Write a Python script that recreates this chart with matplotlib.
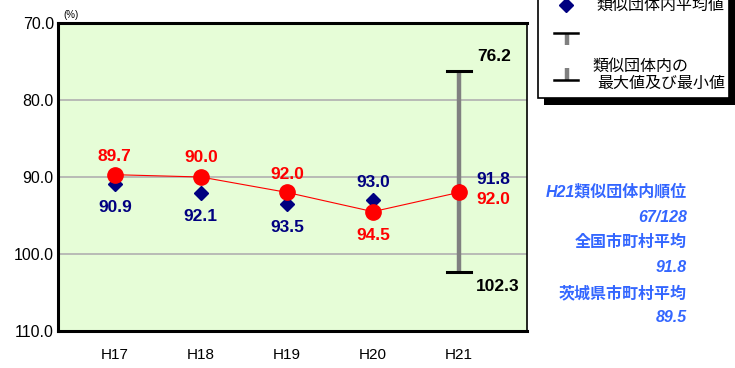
import matplotlib
matplotlib.use("Agg")
import matplotlib.pyplot as plt
from matplotlib.patches import Rectangle

plt.rcParams['font.family'] = ['Liberation Sans', 'Noto Sans CJK JP', 'DejaVu Sans']

# 年度別データ
years = ['H17', 'H18', 'H19', 'H20', 'H21']
own_vals = [89.7, 90.0, 92.0, 94.5, 92.0]       # 当該団体
group_avg = [90.9, 92.1, 93.5, 93.0, 91.8]      # 類似団体内平均値
group_max, group_min = 76.2, 102.3              # 類似団体内の最大値及び最小値 (H21)
yticks = [70.0, 80.0, 90.0, 100.0, 110.0]

side_texts = ['H21類似団体内順位', '67/128', '全国市町村平均', '91.8', '茨城県市町村平均', '89.5']

RED = '#ff0000'
NAVY = '#000080'
BLUE = '#3366ff'

fig = plt.figure(figsize=(7.35, 3.68), dpi=100)
ax = fig.add_axes([58/735, 1-331/368, 469/735, 308/368])
ax.set_facecolor('#e6fdd7')

x = list(range(len(years)))
ax.set_xlim(-0.66, 4.79)
ax.set_ylim(110, 70)
ax.set_yticks(yticks)
ax.set_yticklabels(['%.1f' % v for v in yticks], fontsize=11.5)
ax.set_xticks(x)
ax.set_xticklabels(years, fontsize=11)
ax.tick_params(length=0, pad=3)
ax.tick_params(axis='x', pad=12)
for v in yticks[1:-1]:
    ax.axhline(v, color='#b0b0b0', lw=1.2, zorder=1)
for s in ['left', 'bottom', 'top']:
    ax.spines[s].set_linewidth(2.2)
ax.spines['right'].set_linewidth(1.2)

# 最大値・最小値
xi = x[-1]
ax.plot([xi, xi], [group_max, group_min], color='#808080', lw=3.2, zorder=2, solid_capstyle='butt')
ax.plot([xi - 0.14, xi + 0.14], [group_max, group_max], color='black', lw=2.2, zorder=3)
ax.plot([xi - 0.14, xi + 0.14], [group_min, group_min], color='black', lw=2.2, zorder=3)

ax.plot(x, group_avg, linestyle='none', marker='D', markersize=7.5, color=NAVY, zorder=4)
ax.plot(x, own_vals, color=RED, lw=0.8, marker='o', markersize=11, zorder=5)

lbl = dict(ha='center', va='center', fontsize=12.5, fontweight='bold', textcoords='offset points')
red_off = [(0, 13), (0, 14), (0, 13), (0, -17), (25, -5)]
blue_off = [(0, -17), (0, -17), (0, -17), (0, 13), (25, 8)]
for i in x:
    ax.annotate('%.1f' % own_vals[i], (x[i], own_vals[i]), xytext=red_off[i], color=RED, **lbl)
    ax.annotate('%.1f' % group_avg[i], (x[i], group_avg[i]), xytext=blue_off[i], color=NAVY, **lbl)
ax.annotate('%.1f' % group_max, (xi, group_max), xytext=(25, 10), color='black', **lbl)
ax.annotate('%.1f' % group_min, (xi, group_min), xytext=(28, -11), color='black', **lbl)

fig.text(63/735, 1-15/368, '(%)', fontsize=7, ha='left', va='center')

# 凡例
lg = fig.add_axes([0, 0, 1, 1], facecolor='none')
lg.set_xlim(0, 735)
lg.set_ylim(368, 0)
lg.axis('off')
lg.add_patch(Rectangle((544, -5), 191, 110, facecolor='black', edgecolor='none', zorder=1))
lg.add_patch(Rectangle((538, -10), 191, 108, facecolor='white', edgecolor='black', lw=1.2, zorder=2))
lg.plot([566], [5], marker='D', markersize=7, color=NAVY, linestyle='none', zorder=3)
lg.plot([567, 567], [33, 45], color='#808080', lw=3.2, zorder=3, solid_capstyle='butt')
lg.plot([554, 578], [33, 33], color='black', lw=1.8, zorder=4)
lg.plot([567, 567], [68, 80], color='#808080', lw=3.2, zorder=3, solid_capstyle='butt')
lg.plot([554, 578], [80, 80], color='black', lw=1.8, zorder=4)
lg.text(596, 5, '類似団体内平均値', fontsize=11.5, va='center', ha='left', zorder=5)
lg.text(592, 66, '類似団体内の', fontsize=11.5, va='center', ha='left', zorder=5)
lg.text(597, 83, '最大値及び最小値', fontsize=11.5, va='center', ha='left', zorder=5)

ys = [192, 217, 242, 267, 293, 318]
for t, yy in zip(side_texts, ys):
    lg.text(687, yy, t, fontsize=11.5, color=BLUE, fontweight='bold', style='italic',
            ha='right', va='center')

fig.savefig('out.png', dpi=100)
